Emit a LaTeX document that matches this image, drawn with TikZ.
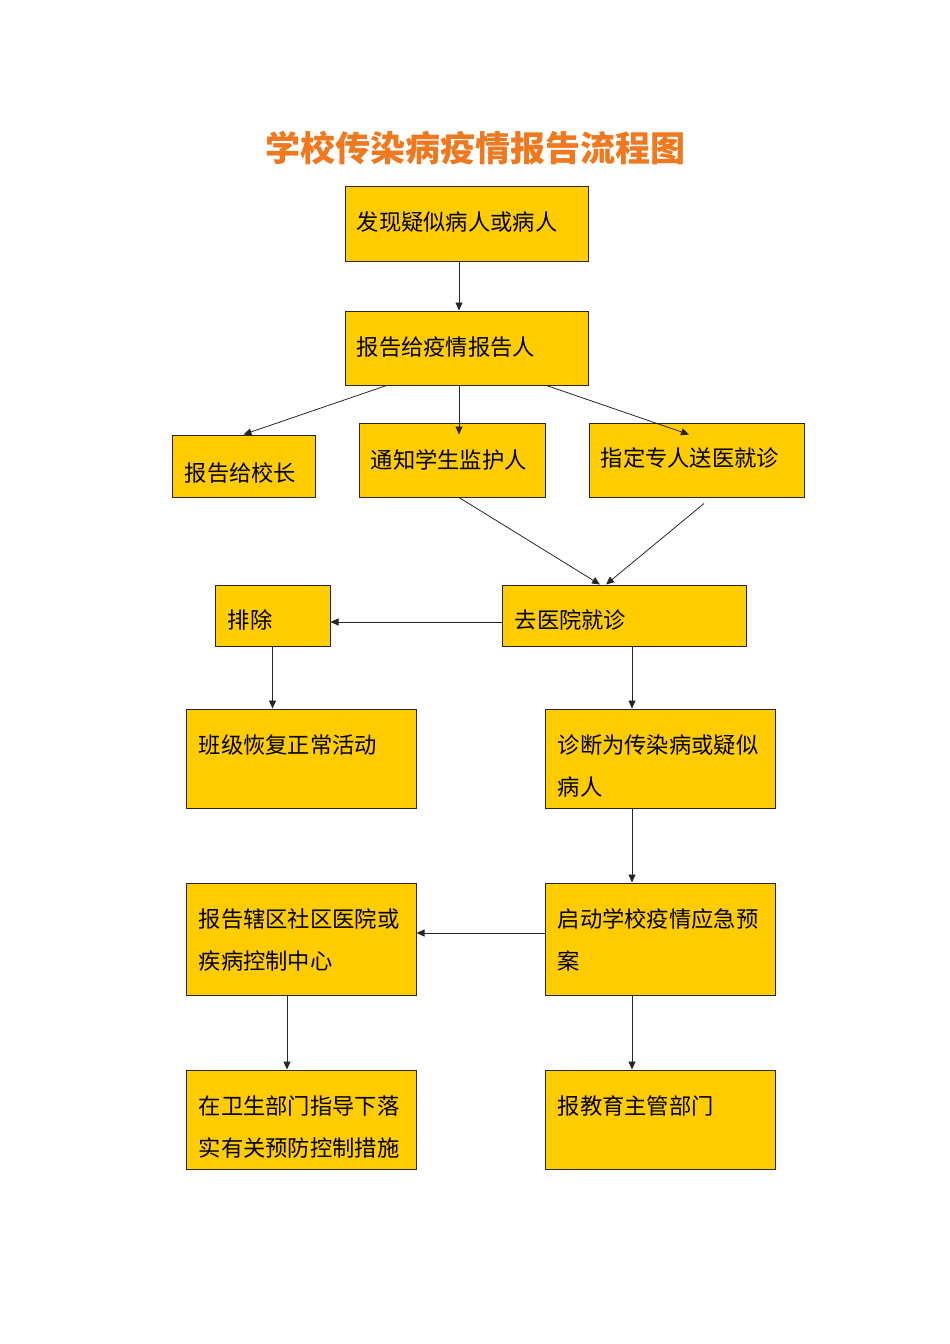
\documentclass[tikz,border=0pt]{standalone}
\usepackage{fontspec}
\newfontfamily\cjk{Noto Sans CJK SC}
\usepackage{xcolor}
\usetikzlibrary{positioning,calc,arrows.meta}
\definecolor{boxyellow}{HTML}{FFCC00}
\definecolor{titleorange}{HTML}{F0781E}

\begin{document}
\begin{tikzpicture}[
    x=1pt, y=-1pt,
    flowbox/.style={rectangle, draw=black!85, fill=boxyellow, line width=1pt, inner sep=0pt},
    boxtext/.style={font=\cjk\fontsize{22.3pt}{42pt}\selectfont, align=left, inner sep=0pt, anchor=base west},
    ptr/.style={-{Triangle[length=8pt,width=7pt]}, line width=0.8pt, draw=black!85}
]
    \useasboundingbox (0,0) rectangle (950,1344);

    % Title
    \node[font=\cjk\bfseries\fontsize{35pt}{40pt}\selectfont, text=titleorange] (title) at (475,148) {学校传染病疫情报告流程图};

    % Top
    \node[flowbox, minimum width=243pt, minimum height=75pt] (b1) at (466.5,223.5) {};
    \node[boxtext] (t1) at ([xshift=12pt,yshift=-45pt]b1.north west) {发现疑似病人或病人};
    \node[flowbox, minimum width=243pt, minimum height=74pt] (b2) at (466.5,348) {};
    \node[boxtext] (t2) at ([xshift=12pt,yshift=-45pt]b2.north west) {报告给疫情报告人};

    % Three branches
    \node[flowbox, minimum width=143pt, minimum height=62pt] (b3) at (243.5,466) {};
    \node[boxtext] (t3) at ([xshift=13pt,yshift=-47pt]b3.north west) {报告给校长};
    \node[flowbox, minimum width=186pt, minimum height=74pt] (b4) at (452,460) {};
    \node[boxtext] (t4) at ([xshift=12pt,yshift=-46pt]b4.north west) {通知学生监护人};
    \node[flowbox, minimum width=215pt, minimum height=74pt] (b5) at (696.5,460) {};
    \node[boxtext] (t5) at ([xshift=12pt,yshift=-44pt]b5.north west) {指定专人送医就诊};

    % Hospital
    \node[flowbox, minimum width=115pt, minimum height=61pt] (b6) at (272.5,615.5) {};
    \node[boxtext] (t6) at ([xshift=13pt,yshift=-44pt]b6.north west) {排除};
    \node[flowbox, minimum width=244pt, minimum height=61pt] (b7) at (624,615.5) {};
    \node[boxtext] (t7) at ([xshift=13pt,yshift=-44pt]b7.north west) {去医院就诊};

    % Results (two-line texts: base is the last line)
    \node[flowbox, minimum width=230pt, minimum height=99pt] (b8) at (301,758.5) {};
    \node[boxtext] (t8) at ([xshift=13pt,yshift=-45pt]b8.north west) {班级恢复正常活动};
    \node[flowbox, minimum width=230pt, minimum height=99pt] (b9) at (660,758.5) {};
    \node[boxtext] (t9) at ([xshift=13pt,yshift=-87pt]b9.north west) {诊断为传染病或疑似\\病人};

    \node[flowbox, minimum width=230pt, minimum height=112pt] (b10) at (301,939) {};
    \node[boxtext] (t10) at ([xshift=13pt,yshift=-87pt]b10.north west) {报告辖区社区医院或\\疾病控制中心};
    \node[flowbox, minimum width=230pt, minimum height=112pt] (b11) at (660,939) {};
    \node[boxtext] (t11) at ([xshift=13pt,yshift=-87pt]b11.north west) {启动学校疫情应急预\\案};

    \node[flowbox, minimum width=230pt, minimum height=99pt] (b12) at (301,1119.5) {};
    \node[boxtext] (t12) at ([xshift=13pt,yshift=-87pt]b12.north west) {在卫生部门指导下落\\实有关预防控制措施};
    \node[flowbox, minimum width=230pt, minimum height=99pt] (b13) at (660,1119.5) {};
    \node[boxtext] (t13) at ([xshift=13pt,yshift=-45pt]b13.north west) {报教育主管部门};

    % Arrows
    \draw[ptr] ([xshift=-7.5pt]b1.south) -- ([xshift=-7.5pt]b2.north);
    \draw[ptr] ([xshift=42pt]b2.south west) -- (b3.north);
    \draw[ptr] ([xshift=-7.5pt]b2.south) -- ([xshift=7pt,yshift=-12pt]b4.north);
    \draw[ptr] ([xshift=-42pt]b2.south east) -- ([xshift=-7.5pt,yshift=-12pt]b5.north);
    \draw[ptr] ([xshift=7pt]b4.south) -- ([xshift=-24pt]b7.north);
    \draw[ptr] ([xshift=7.5pt,yshift=-6pt]b5.south) -- ([xshift=-18pt]b7.north);
    \draw[ptr] ([yshift=-6.5pt]b7.west) -- ([yshift=-6.5pt]b6.east);
    \draw[ptr] (b6.south) -- (b6.south |- b8.north);
    \draw[ptr] ([xshift=8pt]b7.south) -- ([xshift=-28pt]b9.north);
    \draw[ptr] ([xshift=-28pt]b9.south) -- ([xshift=-28pt]b11.north);
    \draw[ptr] ([yshift=6pt]b11.west) -- ([yshift=6pt]b10.east);
    \draw[ptr] ([xshift=-14pt]b10.south) -- ([xshift=-14pt]b12.north);
    \draw[ptr] ([xshift=-28pt]b11.south) -- ([xshift=-28pt]b13.north);
\end{tikzpicture}
\end{document}
